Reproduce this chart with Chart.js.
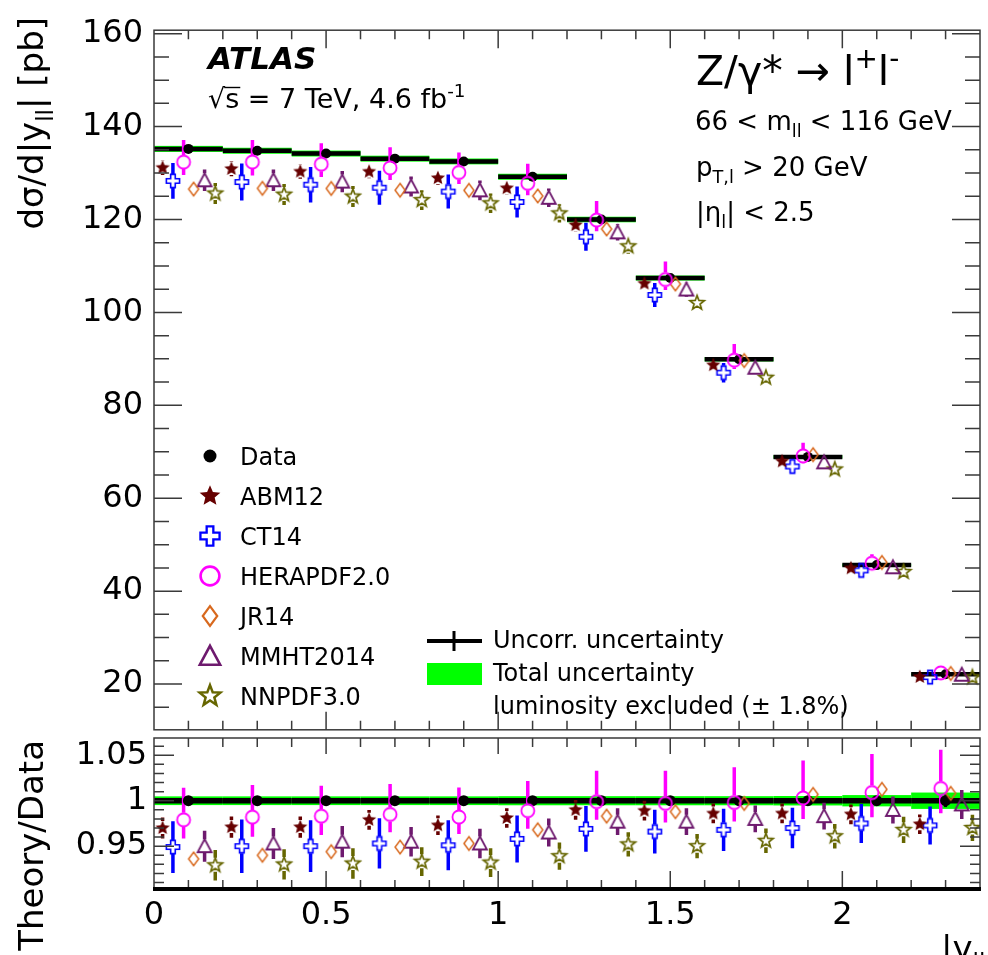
<!DOCTYPE html>
<html>
<head>
<meta charset="utf-8">
<script src="https://cdn.jsdelivr.net/npm/chart.js@4.4.1/dist/chart.umd.min.js"></script>
<style>
  html, body { margin: 0; padding: 0; background: #fff; overflow: hidden; }
  #wrap { position: relative; width: 988px; height: 955px; }
  #mainChart { position: absolute; left: 0; top: 0; }
  #ratioChart { position: absolute; left: 0; top: 700px; }
</style>
</head>
<body>
<div id="wrap">
  <canvas id="mainChart" width="988" height="760"></canvas>
  <canvas id="ratioChart" width="988" height="255"></canvas>
</div>
<script>
const FONT = '"DejaVu Sans", sans-serif';

// |y_ll| bins
const binLow    = [0.0, 0.2, 0.4, 0.6, 0.8, 1.0, 1.2, 1.4, 1.6, 1.8, 2.0, 2.2];
const binHigh   = [0.2, 0.4, 0.6, 0.8, 1.0, 1.2, 1.4, 1.6, 1.8, 2.0, 2.2, 2.4];
const binCenter = [0.1, 0.3, 0.5, 0.7, 0.9, 1.1, 1.3, 1.5, 1.7, 1.9, 2.1, 2.3];

// measured dsigma/d|y_ll| [pb] and uncertainties [%]
const dataXsec   = [135.2, 134.8, 134.2, 133.1, 132.5, 129.2, 120.0, 107.4, 89.9, 68.9, 45.6, 22.1];
const dataUncorr = [0.25, 0.25, 0.25, 0.25, 0.25, 0.25, 0.25, 0.25, 0.3, 0.35, 0.45, 0.7];
const dataTotal  = [0.48, 0.48, 0.48, 0.48, 0.48, 0.5, 0.5, 0.5, 0.5, 0.52, 0.62, 0.9];

// predictions [pb] and PDF uncertainties [%]
const abm12     = [131.14, 130.89, 130.31, 130.30, 128.92, 126.75, 118.80, 106.22, 88.64, 67.94, 44.92, 21.53];
const ct14      = [128.31, 128.06, 127.49, 126.84, 126.01, 123.77, 116.28, 103.75, 87.02, 66.83, 44.46, 21.50];
const herapdf20 = [132.36, 132.37, 131.92, 131.10, 130.12, 127.78, 119.88, 107.08, 89.72, 69.11, 46.01, 22.40];
const jr14      = [126.55, 126.71, 126.68, 126.31, 126.27, 125.07, 117.96, 106.11, 89.63, 69.38, 46.17, 22.28];
const mmht2014  = [128.44, 128.46, 128.16, 127.11, 126.27, 124.68, 117.24, 104.93, 88.10, 67.73, 45.14, 22.01];
const nnpdf30   = [125.60, 125.36, 124.94, 124.18, 123.49, 121.32, 114.24, 102.03, 85.94, 66.21, 44.14, 21.44];

const abm12Err  = [1.2, 1.2, 1.2, 1.1, 1.1, 1.1, 1.1, 1.1, 1.1, 1.1, 1.1, 1.1];
const ct14Err   = [3.0, 3.1, 3.0, 2.9, 2.9, 2.7, 2.6, 2.5, 2.4, 2.3, 2.2, 2.15];
const heraErrUp = [3.6, 3.6, 3.4, 3.4, 3.3, 3.3, 3.4, 3.6, 3.9, 4.1, 4.2, 4.2];
const heraErrDn = [2.1, 2.2, 2.1, 2.0, 1.9, 2.0, 2.0, 2.1, 2.1, 2.3, 2.7, 2.7];
const mmhtErr   = [1.8, 1.8, 1.8, 1.7, 1.7, 1.6, 1.5, 1.5, 1.5, 1.5, 1.5, 1.6];
const nnpdfErr  = [1.8, 1.8, 1.8, 1.7, 1.7, 1.6, 1.4, 1.4, 1.4, 1.4, 1.5, 1.5];

// tick labels
const mainYTicks  = [20, 40, 60, 80, 100, 120, 140, 160];
const ratioYTicks = [0.95, 1, 1.05];
const xTicks      = [0, 0.5, 1, 1.5, 2];

const theorySets = [
  {label: 'ABM12',      values: abm12,     up: abm12Err,  dn: abm12Err,  color: '#660000', kind: 'fullStar',     dx: 0.025},
  {label: 'CT14',       values: ct14,      up: ct14Err,   dn: ct14Err,   color: '#0000ff', kind: 'openCross',    dx: 0.055},
  {label: 'HERAPDF2.0', values: herapdf20, up: heraErrUp, dn: heraErrDn, color: '#ff00ff', kind: 'openCircle',   dx: 0.086},
  {label: 'JR14',       values: jr14,      up: null,      dn: null,      color: '#d8691e', kind: 'openDiamond',  dx: 0.115},
  {label: 'MMHT2014',   values: mmht2014,  up: mmhtErr,   dn: mmhtErr,   color: '#6e1a6e', kind: 'openTriangle', dx: 0.147},
  {label: 'NNPDF3.0',   values: nnpdf30,   up: nnpdfErr,  dn: nnpdfErr,  color: '#666600', kind: 'openStar',     dx: 0.178}
];
// gap left around the marker by the error bars (up, down)
const GAP = {fullStar: [7, 6], openCross: [7, 7], openCircle: [7, 7], openDiamond: [7, 7], openTriangle: [7, 6], openStar: [7.5, 6.5]};

// ROOT-like marker glyphs drawn into small canvases
function makeMarker(kind, color, k) {
  const size = 2 * Math.ceil(13 * k);
  const c = document.createElement('canvas');
  c.width = size; c.height = size;
  const g = c.getContext('2d');
  const m = size / 2;
  g.strokeStyle = color; g.fillStyle = color;
  g.beginPath();
  if (kind === 'dot') {
    g.arc(m, m, 5 * k, 0, 2 * Math.PI);
    g.fill();
  } else if (kind === 'fullStar' || kind === 'openStar') {
    const R = 7.5 * k, r = R * (kind === 'fullStar' ? 0.45 : 0.42);
    for (let i = 0; i < 10; i++) {
      const a = -Math.PI / 2 + i * Math.PI / 5, rr = i % 2 ? r : R;
      g.lineTo(m + rr * Math.cos(a), m + rr * Math.sin(a));
    }
    g.closePath();
    if (kind === 'fullStar') g.fill(); else { g.lineWidth = 1.7 * k; g.stroke(); }
  } else if (kind === 'openCross') {
    const a = 6.6 * k, b = 2.3 * k;
    const pts = [[-b, -a], [b, -a], [b, -b], [a, -b], [a, b], [b, b], [b, a], [-b, a], [-b, b], [-a, b], [-a, -b], [-b, -b]];
    pts.forEach(p => g.lineTo(m + p[0], m + p[1]));
    g.closePath();
    g.lineWidth = 1.6 * k; g.stroke();
  } else if (kind === 'openCircle') {
    g.arc(m, m, 6.5 * k, 0, 2 * Math.PI);
    g.lineWidth = 1.8 * k; g.stroke();
  } else if (kind === 'openDiamond') {
    const w = 5 * k, h = 6.8 * k;
    g.moveTo(m, m - h); g.lineTo(m + w, m); g.lineTo(m, m + h); g.lineTo(m - w, m); g.closePath();
    g.lineWidth = 1.5 * k; g.stroke();
  } else if (kind === 'openTriangle') {
    g.moveTo(m, m - 7 * k); g.lineTo(m + 7 * k, m + 6 * k); g.lineTo(m - 7 * k, m + 6 * k); g.closePath();
    g.lineWidth = 1.8 * k; g.stroke();
  }
  return c;
}

function rich(ctx, parts, x, y, size, align) {
  const items = parts.map(p => {
    const s = typeof p === 'string' ? {t: p} : Object.assign({}, p);
    s.font = (s.k ? size * 0.68 : size) + 'px ' + FONT;
    ctx.font = s.font;
    s.w = ctx.measureText(s.t).width;
    s.dy = s.k === 'sub' ? size * 0.28 : s.k === 'sup' ? -size * 0.42 : 0;
    return s;
  });
  const total = items.reduce((a, s) => a + s.w, 0);
  let cx = align === 'right' ? x - total : x;
  ctx.textAlign = 'left'; ctx.textBaseline = 'alphabetic';
  items.forEach(s => { ctx.font = s.font; ctx.fillText(s.t, cx, y + s.dy); cx += s.w; });
  return total;
}

function seg(ctx, x0, y0, x1, y1) { ctx.moveTo(x0, y0); ctx.lineTo(x1, y1); }

function frameAndTicks(chart, t) {
  const {ctx, chartArea: a, scales: {x, y}} = chart;
  ctx.save();
  ctx.strokeStyle = '#3a3a3a'; ctx.lineWidth = 1.5;
  ctx.strokeRect(a.left, a.top, a.right - a.left, a.bottom - a.top);
  ctx.beginPath();
  t.yMajor.forEach(v => { const p = y.getPixelForValue(v); seg(ctx, a.left, p, a.left + t.yl, p); seg(ctx, a.right - t.yl, p, a.right, p); });
  t.yMinor.forEach(v => { const p = y.getPixelForValue(v); seg(ctx, a.left, p, a.left + t.ys, p); seg(ctx, a.right - t.ys, p, a.right, p); });
  for (let i = 1; i < 24; i++) {
    const p = x.getPixelForValue(i / 10), major = i % 5 === 0;
    seg(ctx, p, a.top, p, a.top + (major ? t.xlt : t.xst));
    seg(ctx, p, a.bottom, p, a.bottom - (major ? t.xlb : t.xsb));
  }
  ctx.stroke();
  ctx.restore();
}

const markerPlot = {}, markerLegend = {};
theorySets.forEach(s => {
  markerPlot[s.label] = makeMarker(s.kind, s.color, 1);
  markerLegend[s.label] = makeMarker(s.kind, s.color, 1.45);
});
const dataLegendDot = makeMarker('dot', '#000', 1.3);

const hepPlugin = {
  id: 'hep',
  beforeDatasetsDraw(chart, args, opts) {
    const {ctx, chartArea: a, scales: {x, y}} = chart;
    const ratio = opts.ratio;
    ctx.save();
    ctx.beginPath(); ctx.rect(a.left, a.top, a.right - a.left, a.bottom - a.top); ctx.clip();
    // total uncertainty band
    ctx.fillStyle = '#00ff00';
    dataXsec.forEach((d, i) => {
      const ref = ratio ? 1 : d;
      const x0 = x.getPixelForValue(binLow[i]), x1 = x.getPixelForValue(binHigh[i]);
      const t = y.getPixelForValue(ref * (1 + dataTotal[i] / 100)), b = y.getPixelForValue(ref * (1 - dataTotal[i] / 100));
      ctx.fillRect(x0, t, x1 - x0, b - t);
    });
    // data: bin width line and uncorrelated error
    ctx.strokeStyle = '#000';
    dataXsec.forEach((d, i) => {
      const ref = ratio ? 1 : d;
      const yc = y.getPixelForValue(ref);
      ctx.lineWidth = ratio ? 5.5 : 4.5;
      ctx.beginPath(); seg(ctx, x.getPixelForValue(binLow[i]), yc, x.getPixelForValue(binHigh[i]), yc); ctx.stroke();
      const xc = x.getPixelForValue(binCenter[i]);
      ctx.lineWidth = 3;
      ctx.beginPath();
      seg(ctx, xc, y.getPixelForValue(ref * (1 + dataUncorr[i] / 100)), xc, y.getPixelForValue(ref * (1 - dataUncorr[i] / 100)));
      ctx.stroke();
    });
    // prediction uncertainties
    theorySets.forEach(s => {
      if (!s.up) return;
      ctx.strokeStyle = s.color; ctx.lineWidth = 3.5;
      const gap = GAP[s.kind];
      s.values.forEach((v0, i) => {
        const v = ratio ? v0 / dataXsec[i] : v0;
        const px = x.getPixelForValue(binLow[i] + s.dx);
        const pc = y.getPixelForValue(v);
        const pt = y.getPixelForValue(v * (1 + s.up[i] / 100));
        const pb = y.getPixelForValue(v * (1 - s.dn[i] / 100));
        ctx.beginPath();
        if (pc - gap[0] > pt) seg(ctx, px, pt, px, pc - gap[0]);
        if (pc + gap[1] < pb) seg(ctx, px, pc + gap[1], px, pb);
        ctx.stroke();
      });
    });
    ctx.restore();
  },
  afterDraw(chart, args, opts) {
    const ctx = chart.ctx;
    if (!opts.ratio) {
      const minor = [];
      for (let v = 15; v < 160; v += 5) if (v % 20) minor.push(v);
      frameAndTicks(chart, {yMajor: mainYTicks, yMinor: minor, yl: 28, ys: 15, xlt: 18, xst: 9, xlb: 18, xsb: 9});
      ctx.save();
      ctx.fillStyle = '#000'; ctx.strokeStyle = '#000';
      ctx.font = 'italic bold 31px ' + FONT; ctx.textAlign = 'left'; ctx.textBaseline = 'alphabetic';
      ctx.fillText('ATLAS', 208, 69);
      rich(ctx, ['√s = 7 TeV, 4.6 fb', {t: '-1', k: 'sup'}], 208, 108, 27);
      ctx.font = '27px ' + FONT;
      const wr = ctx.measureText('√').width, ws = ctx.measureText('s').width;
      ctx.lineWidth = 1.4; ctx.beginPath(); seg(ctx, 208 + wr - 1, 87.5, 208 + wr + ws + 1, 87.5); ctx.stroke();
      rich(ctx, ['Z/γ* → l', {t: '+', k: 'sup'}, 'l', {t: '-', k: 'sup'}], 696, 85, 41);
      rich(ctx, ['66 < m', {t: 'll', k: 'sub'}, ' < 116 GeV'], 695, 130, 26);
      rich(ctx, ['p', {t: 'T,l', k: 'sub'}, ' > 20 GeV'], 696, 176, 26);
      rich(ctx, ['|η', {t: 'l', k: 'sub'}, '| < 2.5'], 696, 221, 26);
      // y title
      ctx.save(); ctx.translate(43, 17); ctx.rotate(-Math.PI / 2);
      rich(ctx, ['dσ/d|y', {t: 'll', k: 'sub'}, '| [pb]'], 0, 0, 34, 'right');
      ctx.restore();
      // legend, left column
      const rows = [['Data', dataLegendDot]].concat(theorySets.map(s => [s.label, markerLegend[s.label]]));
      rows.forEach((r, i) => {
        const cy = 456 + 40 * i;
        ctx.drawImage(r[1], 210 - r[1].width / 2, cy - r[1].height / 2);
        ctx.font = '24px ' + FONT; ctx.fillText(r[0], 240, cy + 8.5);
      });
      // legend, uncertainties
      ctx.lineWidth = 4; ctx.beginPath(); seg(ctx, 427, 641, 482, 641); ctx.stroke();
      ctx.lineWidth = 3; ctx.beginPath(); seg(ctx, 454, 631, 454, 651); ctx.stroke();
      ctx.fillStyle = '#00ff00'; ctx.fillRect(427, 663, 55, 22);
      ctx.fillStyle = '#000'; ctx.font = '24px ' + FONT;
      ctx.fillText('Uncorr. uncertainty', 493, 648);
      ctx.fillText('Total uncertainty', 493, 681);
      ctx.fillText('luminosity excluded (± 1.8%)', 493, 714);
      ctx.restore();
    } else {
      const minor = [];
      for (let k = 91; k <= 106; k++) if (k % 5) minor.push(k / 100);
      frameAndTicks(chart, {yMajor: ratioYTicks, yMinor: minor, yl: 20, ys: 10, xlt: 16, xst: 9, xlb: 17, xsb: 8});
      const a = chart.chartArea;
      ctx.save();
      ctx.strokeStyle = '#000'; ctx.lineWidth = 4;
      ctx.beginPath(); seg(ctx, a.left - 1, a.bottom + 1, a.right + 1, a.bottom + 1); ctx.stroke();
      ctx.fillStyle = '#000';
      ctx.save(); ctx.translate(43, 40); ctx.rotate(-Math.PI / 2);
      rich(ctx, ['Theory/Data'], 0, 0, 34, 'right');
      ctx.restore();
      rich(ctx, ['|y', {t: 'll', k: 'sub'}, '|'], 941, 260, 34);
      ctx.restore();
    }
  }
};

function buildDatasets(ratio) {
  const sets = theorySets.map(s => ({
    label: s.label,
    data: s.values.map((v, i) => ({x: binLow[i] + s.dx, y: ratio ? v / dataXsec[i] : v})),
    pointStyle: markerPlot[s.label],
    pointRadius: 7
  }));
  sets.push({
    label: 'Data',
    data: dataXsec.map((d, i) => ({x: binCenter[i], y: ratio ? 1 : d})),
    pointStyle: 'circle',
    pointRadius: ratio ? 5.5 : 5,
    pointBackgroundColor: '#000',
    pointBorderColor: '#000',
    pointBorderWidth: 0
  });
  return sets;
}

new Chart('mainChart', {
  type: 'scatter',
  data: {datasets: buildDatasets(false)},
  plugins: [hepPlugin],
  options: {
    responsive: false,
    animation: false,
    events: [],
    layout: {padding: {top: 19, right: 1, bottom: 22, left: 0}},
    plugins: {legend: {display: false}, tooltip: {enabled: false}, hep: {ratio: false}},
    scales: {
      x: {type: 'linear', min: 0, max: 2.4, display: false},
      y: {
        type: 'linear', min: 10.15, max: 160.75,
        afterFit: s => { s.width = 154; },
        afterBuildTicks: s => { s.ticks = mainYTicks.map(v => ({value: v})); },
        ticks: {callback: v => String(v), autoSkip: false, color: '#000', padding: 11, font: {family: FONT, size: 32}},
        grid: {display: false, drawTicks: false},
        border: {display: false}
      }
    }
  }
});

new Chart('ratioChart', {
  type: 'scatter',
  data: {datasets: buildDatasets(true)},
  plugins: [hepPlugin],
  options: {
    responsive: false,
    animation: false,
    events: [],
    layout: {padding: {top: 38, right: 1, bottom: 0, left: 0}},
    plugins: {legend: {display: false}, tooltip: {enabled: false}, hep: {ratio: true}},
    scales: {
      x: {
        type: 'linear', min: 0, max: 2.4,
        afterFit: s => { s.height = 67; },
        afterBuildTicks: s => { s.ticks = xTicks.map(v => ({value: v})); },
        ticks: {callback: v => String(v), autoSkip: false, maxRotation: 0, color: '#000', padding: 8, font: {family: FONT, size: 32}},
        grid: {display: false, drawTicks: false},
        border: {display: false}
      },
      y: {
        type: 'linear', min: 0.904, max: 1.069,
        afterFit: s => { s.width = 154; },
        afterBuildTicks: s => { s.ticks = ratioYTicks.map(v => ({value: v})); },
        ticks: {callback: v => String(v), autoSkip: false, color: '#000', padding: 7, font: {family: FONT, size: 32}},
        grid: {display: false, drawTicks: false},
        border: {display: false}
      }
    }
  }
});
</script>
</body>
</html>
